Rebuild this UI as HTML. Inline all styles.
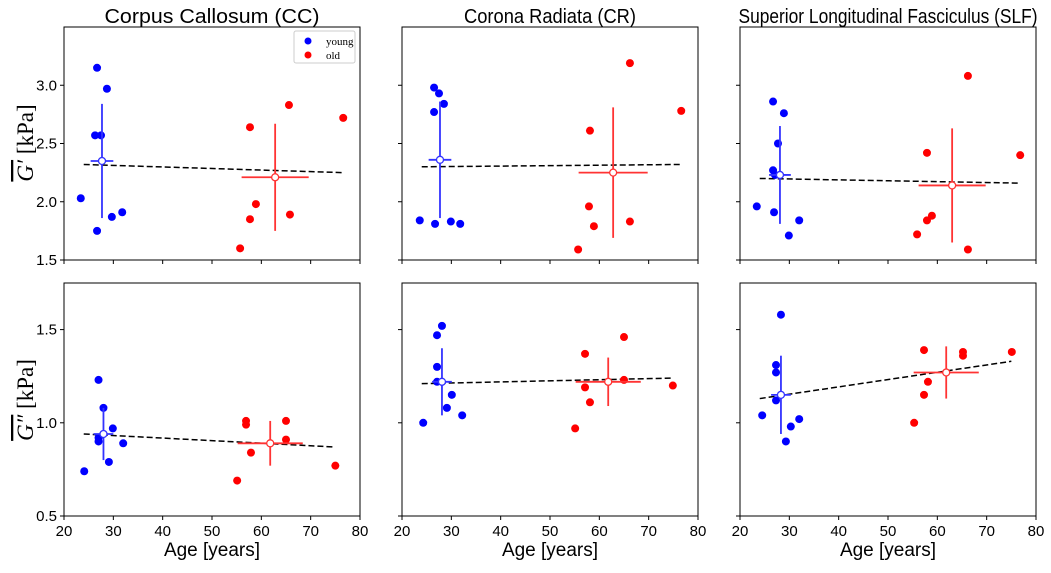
<!DOCTYPE html>
<html><head><meta charset="utf-8"><style>
body{margin:0;background:#fff;width:1051px;height:568px;overflow:hidden}
svg text{font-family:"Liberation Sans",sans-serif;fill:#000}
svg text.serif{font-family:"Liberation Serif",serif}
</style></head><body>
<svg id="c" width="1051" height="568" xmlns="http://www.w3.org/2000/svg"></svg>
<script>
const titles=["Corpus Callosum (CC)","Corona Radiata (CR)","Superior Longitudinal Fasciculus (SLF)"];
const xTicks=[20,30,40,50,60,70,80];
const topTicks=[1.5,2.0,2.5,3.0];
const botTicks=[0.5,1.0,1.5];
// top row (G') young ages/values, old ages/values per region
const topYoungAge=[[26.7,28.7,26.3,27.5,23.4,29.7,31.8,26.7],[26.5,27.5,28.5,26.5,23.6,26.7,29.9,31.8],[26.7,28.9,27.7,26.7,27.1,23.4,26.9,32.0,29.9]];
const topYoungVal=[[3.15,2.97,2.57,2.57,2.03,1.87,1.91,1.75],[2.98,2.93,2.84,2.77,1.84,1.81,1.83,1.81],[2.86,2.76,2.50,2.27,2.23,1.96,1.91,1.84,1.71]];
const topOldAge=[[57.7,65.6,76.6,58.9,57.7,65.8,55.7],[66.2,58.1,76.6,57.9,58.9,66.2,55.7],[66.2,57.9,76.8,58.9,57.9,55.9,66.2]];
const topOldVal=[[2.64,2.83,2.72,1.98,1.85,1.89,1.60],[3.19,2.61,2.78,1.96,1.79,1.83,1.59],[3.08,2.42,2.40,1.88,1.84,1.72,1.59]];
const botYoungAge=[[27.0,28.0,29.9,27.0,27.0,32.0,29.1,24.1],[28.1,27.1,27.1,27.1,30.1,29.1,32.2,24.3],[28.3,27.3,27.3,27.3,24.5,32.0,30.3,29.3]];
const botYoungVal=[[1.23,1.08,0.97,0.92,0.90,0.89,0.79,0.74],[1.52,1.47,1.30,1.22,1.15,1.08,1.04,1.00],[1.58,1.31,1.27,1.12,1.04,1.02,0.98,0.90]];
const botOldAge=[[56.9,56.9,65.0,65.0,57.9,55.1,75.0],[65.0,57.1,57.1,58.1,65.0,74.9,55.1],[57.3,65.2,65.2,58.1,57.3,75.1,55.3]];
const botOldVal=[[1.01,0.99,1.01,0.91,0.84,0.69,0.77],[1.46,1.37,1.19,1.11,1.23,1.20,0.97],[1.39,1.38,1.36,1.22,1.15,1.38,1.00]];
// group means: [age, value, ageErr, valueErr]
const topYoungMean=[[27.7,2.35,2.3,0.49],[27.7,2.36,2.3,0.50],[28.1,2.23,2.2,0.42]];
const topOldMean=[[62.8,2.21,6.8,0.46],[62.8,2.25,7.0,0.56],[63.0,2.14,6.8,0.49]];
const botYoungMean=[[28.0,0.94,2.0,0.14],[28.1,1.22,2.0,0.18],[28.3,1.15,2.0,0.21]];
const botOldMean=[[61.8,0.89,6.6,0.12],[61.8,1.22,6.6,0.13],[61.8,1.27,6.6,0.14]];
// trend line endpoints [age0,val0,age1,val1]
const topTrend=[[24,2.32,76.5,2.25],[24,2.30,76.5,2.32],[24,2.20,76.5,2.16]];
const botTrend=[[24,0.94,75,0.87],[24,1.21,75,1.24],[24,1.13,75,1.33]];

const NS="http://www.w3.org/2000/svg",svg=document.getElementById('c');
function mk(t,a,p){const e=document.createElementNS(NS,t);for(const k in a)e.setAttribute(k,a[k]);(p||svg).appendChild(e);return e;}
const colX=[64,402,740],W=296,titleW=[215,172,299];
const rows=[{top:27,h:233,min:1.5,max:3.5,ticks:topTicks,ya:topYoungAge,yv:topYoungVal,oa:topOldAge,ov:topOldVal,ym:topYoungMean,om:topOldMean,tr:topTrend},
{top:283,h:233,min:0.5,max:1.75,ticks:botTicks,ya:botYoungAge,yv:botYoungVal,oa:botOldAge,ov:botOldVal,ym:botYoungMean,om:botOldMean,tr:botTrend}];
rows.forEach((r,ri)=>{colX.forEach((x0,ci)=>{
 const g=mk('g',{});
 
 
 const X=a=>x0+(a-20)/60*W, Y=v=>r.top+r.h-(v-r.min)/(r.max-r.min)*r.h;
 if(ri==0){const t=mk('text',{x:x0+W/2,y:23,'text-anchor':'middle','font-size':20,textLength:titleW[ci],lengthAdjust:'spacingAndGlyphs'},g);t.textContent=titles[ci];
  }
 xTicks.forEach(v=>{mk('line',{x1:X(v),x2:X(v),y1:r.top+r.h,y2:r.top+r.h+4,stroke:'#000'},g);
  if(ri==1){const t=mk('text',{x:X(v),y:r.top+r.h+20,'text-anchor':'middle','font-size':15},g);t.textContent=v;}});
 r.ticks.forEach(v=>{mk('line',{x1:x0-4,x2:x0,y1:Y(v),y2:Y(v),stroke:'#000'},g);
  if(ci==0){const t=mk('text',{x:x0-7,y:Y(v)+5,'text-anchor':'end','font-size':15},g);t.textContent=v.toFixed(1);}});
 const tr=r.tr[ci];
 const ln=mk('line',{x1:X(tr[0]),y1:Y(tr[1]),x2:X(tr[2]),y2:Y(tr[3]),stroke:'#000','stroke-width':1.5,'stroke-dasharray':'6,3'},g);
 
 [[r.ya,r.yv,'#0000ff','young'],[r.oa,r.ov,'#ff0000','old']].forEach(([A,V,c,n])=>{A[ci].forEach((a,i)=>{
  const p=mk('circle',{cx:X(a),cy:Y(V[ci][i]),r:4,fill:c},g);
  });});
 [[r.ym,'#3333ff','young'],[r.om,'#ff3333','old']].forEach(([M,c,n])=>{const m=M[ci];
  mk('line',{x1:X(m[0]-m[2]),x2:X(m[0]+m[2]),y1:Y(m[1]),y2:Y(m[1]),stroke:c,'stroke-width':1.8},g);
  mk('line',{x1:X(m[0]),x2:X(m[0]),y1:Y(m[1]-m[3]),y2:Y(m[1]+m[3]),stroke:c,'stroke-width':1.8},g);
  const p=mk('circle',{cx:X(m[0]),cy:Y(m[1]),r:3.5,fill:'#fff',stroke:c,'stroke-width':1.3},g);
  });
 mk('rect',{x:x0,y:r.top,width:W,height:r.h,fill:'none',stroke:'#000','stroke-width':1},g);
 if(ri==1){const t=mk('text',{x:x0+W/2,y:556,'text-anchor':'middle','font-size':19},g);t.textContent='Age [years]';
  }
});});
// y titles
[[143,"′"],[400,"″"]].forEach(([cy,pr],i)=>{const t=mk('text',{transform:`translate(33,${cy}) rotate(-90)`,'text-anchor':'middle','font-size':23,'class':'serif'});
 t.innerHTML=`<tspan font-style="italic" text-decoration="overline">G${pr}</tspan> [kPa]`;
 });
// legend
const lg=mk('g',{});
mk('rect',{x:294,y:31,width:61,height:32,rx:2,fill:'#fff',stroke:'#ccc'},lg);
[['young','#0000ff',41],['old','#ff0000',55]].forEach(([n,c,y])=>{mk('circle',{cx:308,cy:y,r:3.5,fill:c},lg);
 const t=mk('text',{x:326,y:y+4,'font-size':11,'class':'serif'},lg);t.textContent=n;
 });
</script>
</body></html>
